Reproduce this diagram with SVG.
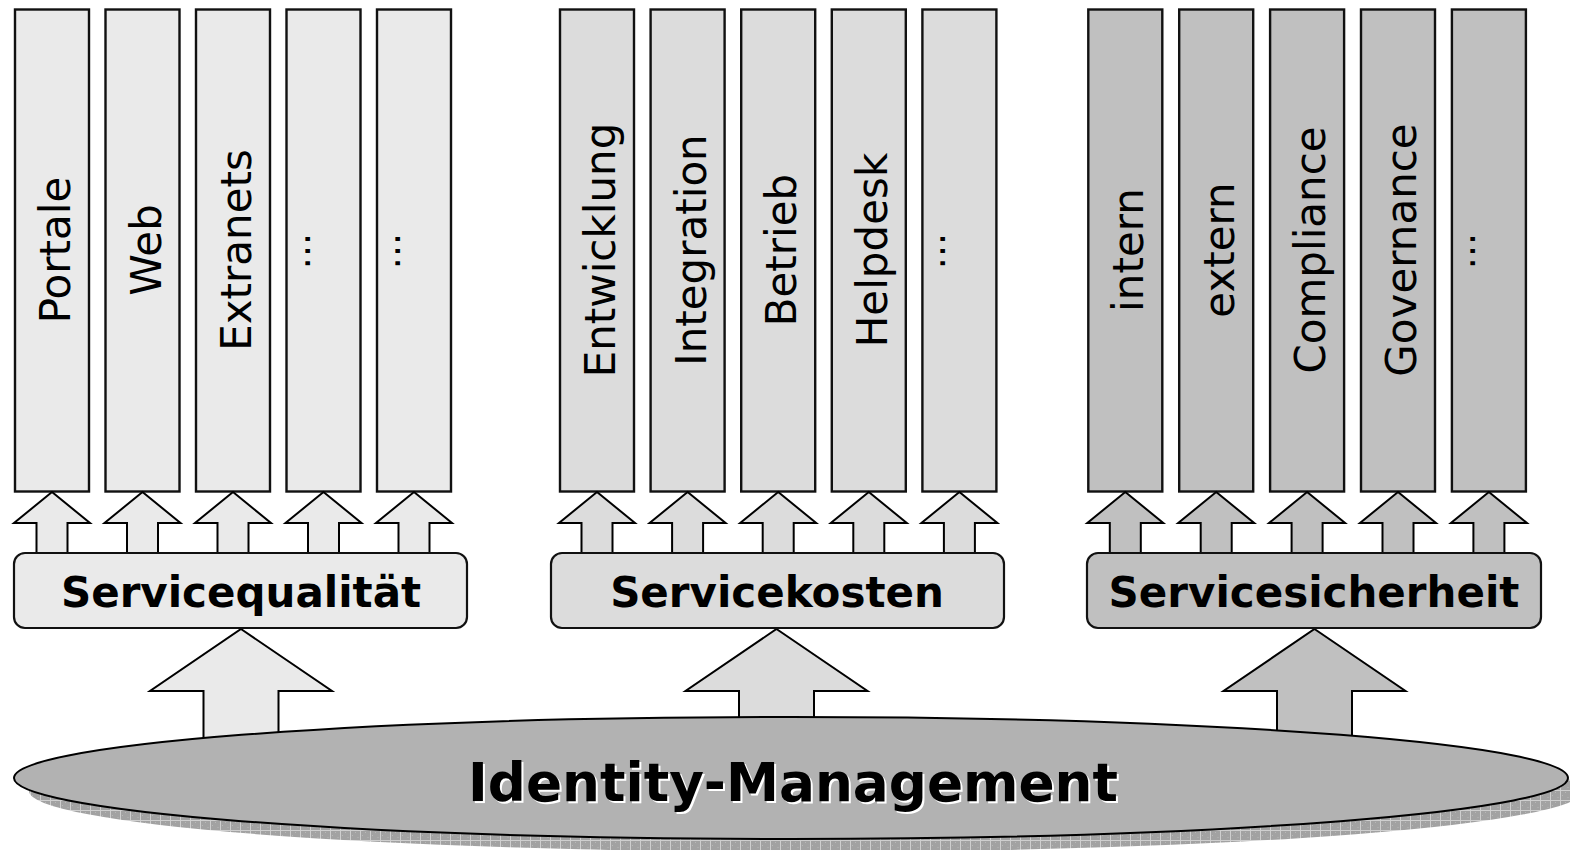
<svg xmlns="http://www.w3.org/2000/svg" width="1570" height="850" viewBox="0 0 1570 850">
  <defs>
    <style>
      .col { stroke: #111; stroke-width: 2.4; }
      .arr { stroke: #000; stroke-width: 2; stroke-linejoin: miter; }
      .box { stroke: #111; stroke-width: 2.2; }
      .g1 { fill: #EAEAEA; }
      .g2 { fill: #DCDCDC; }
      .g3 { fill: #C0C0C0; }
      .vt { font-family: "DejaVu Sans", Verdana, sans-serif; font-size: 42px; fill: #000; text-anchor: middle; }
      .dots { font-family: "DejaVu Sans", Verdana, sans-serif; font-size: 38px; fill: #000; text-anchor: middle; }
      .bt { font-family: "DejaVu Sans", Verdana, sans-serif; font-size: 42px; font-weight: bold; fill: #000; text-anchor: middle; }
      .it { font-family: "DejaVu Sans", Verdana, sans-serif; font-size: 54px; font-weight: bold; text-anchor: middle; }
    </style>
    <pattern id="hatch" width="10" height="10" patternUnits="userSpaceOnUse">
      <rect width="10" height="10" fill="#A2A2A2"/>
      <path d="M0 0.5H10M0.5 0V10" stroke="#CFCFCF" stroke-width="1"/>
      <path d="M5 2.5H6M2.5 5V6M7.5 7.5h1" stroke="#B8B8B8" stroke-width="1"/>
    </pattern>
    <!-- small up-arrow under a column, centred on x=0 -->
    <path id="smallArrow" d="M0 492 L38 523 L15.5 523 L15.5 553 L-15.5 553 L-15.5 523 L-38 523 Z"/>
    <!-- large up-arrow from the ellipse to a category box, centred on x=0 -->
    <path id="bigArrow" d="M0 629 L91 691 L37.5 691 L37.5 765 L-37.5 765 L-37.5 691 L-91 691 Z"/>
  </defs>

  <rect width="1570" height="850" fill="#FFFFFF"/>

  <!-- Servicequalität columns -->
  <g id="col-portale">
    <rect class="col g1" x="15" y="9.5" width="74" height="482"/>
    <text class="vt" transform="translate(70,250) rotate(-90)">Portale</text>
  </g>
  <g id="col-web">
    <rect class="col g1" x="105.5" y="9.5" width="74" height="482"/>
    <text class="vt" transform="translate(160.5,250) rotate(-90)">Web</text>
  </g>
  <g id="col-extranets">
    <rect class="col g1" x="196" y="9.5" width="74" height="482"/>
    <text class="vt" transform="translate(251,250) rotate(-90)">Extranets</text>
  </g>
  <g id="col-q4">
    <rect class="col g1" x="286.5" y="9.5" width="74" height="482"/>
    <text class="dots" transform="translate(309.5,251) rotate(-90)">...</text>
  </g>
  <g id="col-q5">
    <rect class="col g1" x="377" y="9.5" width="74" height="482"/>
    <text class="dots" transform="translate(400,251) rotate(-90)">...</text>
  </g>

  <!-- Servicekosten columns -->
  <g id="col-entwicklung">
    <rect class="col g2" x="560" y="9.5" width="74" height="482"/>
    <text class="vt" transform="translate(615,250) rotate(-90)">Entwicklung</text>
  </g>
  <g id="col-integration">
    <rect class="col g2" x="650.6" y="9.5" width="74" height="482"/>
    <text class="vt" transform="translate(705.6,250) rotate(-90)">Integration</text>
  </g>
  <g id="col-betrieb">
    <rect class="col g2" x="741.2" y="9.5" width="74" height="482"/>
    <text class="vt" transform="translate(796.2,250) rotate(-90)">Betrieb</text>
  </g>
  <g id="col-helpdesk">
    <rect class="col g2" x="831.8" y="9.5" width="74" height="482"/>
    <text class="vt" transform="translate(886.8,250) rotate(-90)">Helpdesk</text>
  </g>
  <g id="col-k5">
    <rect class="col g2" x="922.4" y="9.5" width="74" height="482"/>
    <text class="dots" transform="translate(945.4,251) rotate(-90)">...</text>
  </g>

  <!-- Servicesicherheit columns -->
  <g id="col-intern">
    <rect class="col g3" x="1088.3" y="9.5" width="74" height="482"/>
    <text class="vt" transform="translate(1143.3,250) rotate(-90)">intern</text>
  </g>
  <g id="col-extern">
    <rect class="col g3" x="1179.2" y="9.5" width="74" height="482"/>
    <text class="vt" transform="translate(1234.2,250) rotate(-90)">extern</text>
  </g>
  <g id="col-compliance">
    <rect class="col g3" x="1270.1" y="9.5" width="74" height="482"/>
    <text class="vt" transform="translate(1325.1,250) rotate(-90)">Compliance</text>
  </g>
  <g id="col-governance">
    <rect class="col g3" x="1361" y="9.5" width="74" height="482"/>
    <text class="vt" transform="translate(1416,250) rotate(-90)">Governance</text>
  </g>
  <g id="col-s5">
    <rect class="col g3" x="1451.9" y="9.5" width="74" height="482"/>
    <text class="dots" transform="translate(1474.9,251) rotate(-90)">...</text>
  </g>

  <!-- connectors: block arrows -->
  <g id="connectors">
    <use href="#smallArrow" class="arr g1" x="52"/>
    <use href="#smallArrow" class="arr g1" x="142.5"/>
    <use href="#smallArrow" class="arr g1" x="233"/>
    <use href="#smallArrow" class="arr g1" x="323.5"/>
    <use href="#smallArrow" class="arr g1" x="414"/>

    <use href="#smallArrow" class="arr g2" x="597"/>
    <use href="#smallArrow" class="arr g2" x="687.6"/>
    <use href="#smallArrow" class="arr g2" x="778.2"/>
    <use href="#smallArrow" class="arr g2" x="868.8"/>
    <use href="#smallArrow" class="arr g2" x="959.4"/>

    <use href="#smallArrow" class="arr g3" x="1125.3"/>
    <use href="#smallArrow" class="arr g3" x="1216.2"/>
    <use href="#smallArrow" class="arr g3" x="1307.1"/>
    <use href="#smallArrow" class="arr g3" x="1398"/>
    <use href="#smallArrow" class="arr g3" x="1488.9"/>

    <use href="#bigArrow" class="arr g1" x="241"/>
    <use href="#bigArrow" class="arr g2" x="776.5"/>
    <use href="#bigArrow" class="arr g3" x="1314.5"/>
  </g>

  <!-- category boxes -->
  <g id="box-servicequalitaet">
    <rect class="box g1" x="14" y="553" width="453" height="75" rx="11"/>
    <text class="bt" x="241" y="607">Servicequalität</text>
  </g>
  <g id="box-servicekosten">
    <rect class="box g2" x="551" y="553" width="453" height="75" rx="11"/>
    <text class="bt" x="777" y="607">Servicekosten</text>
  </g>
  <g id="box-servicesicherheit">
    <rect class="box g3" x="1087" y="553" width="454" height="75" rx="11"/>
    <text class="bt" x="1314" y="607">Servicesicherheit</text>
  </g>

  <!-- base ellipse with textured drop shadow -->
  <g id="identity-management">
    <ellipse cx="806" cy="791" rx="777" ry="61" fill="url(#hatch)"/>
    <ellipse cx="791" cy="778" rx="777" ry="61" fill="#B2B2B2" stroke="#000" stroke-width="2"/>
    <text class="it" x="795" y="803" fill="#FFFFFF" textLength="650" lengthAdjust="spacingAndGlyphs">Identity-Management</text>
    <text class="it" x="793" y="801" fill="#000000" textLength="650" lengthAdjust="spacingAndGlyphs">Identity-Management</text>
  </g>
</svg>
